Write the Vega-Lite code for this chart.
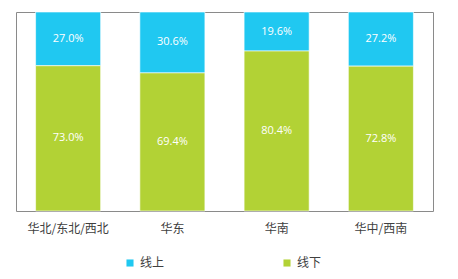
{
  "$schema": "https://vega.github.io/schema/vega-lite/v6.json",
  "autosize": {"type": "none"},
  "width": 417,
  "height": 199,
  "padding": {"left": 16, "top": 12, "right": 25, "bottom": 68},
  "background": "white",
  "config": {
    "view": {"stroke": "#8a8a8a", "strokeWidth": 1},
    "font": "Noto Sans CJK SC"
  },
  "data": {
    "values": [
      {"region": "华北/东北/西北", "series": "线上", "share": 0.270},
      {"region": "华北/东北/西北", "series": "线下", "share": 0.730},
      {"region": "华东", "series": "线上", "share": 0.306},
      {"region": "华东", "series": "线下", "share": 0.694},
      {"region": "华南", "series": "线上", "share": 0.196},
      {"region": "华南", "series": "线下", "share": 0.804},
      {"region": "华中/西南", "series": "线上", "share": 0.272},
      {"region": "华中/西南", "series": "线下", "share": 0.728}
    ]
  },
  "encoding": {
    "x": {
      "field": "region", "type": "nominal", "sort": null,
      "scale": {"paddingInner": 0.376, "paddingOuter": 0.188},
      "axis": {"title": null, "labelAngle": 0, "ticks": false, "domain": false, "labelPadding": 12, "labelFontSize": 12, "labelColor": "#404040", "labelFont": "Noto Sans CJK SC"}
    },
    "y": {
      "field": "share", "type": "quantitative", "stack": "zero",
      "scale": {"domain": [0, 1], "nice": false},
      "axis": null
    },
    "order": {"field": "series", "sort": "descending"}
  },
  "layer": [
    {
      "mark": {"type": "bar", "stroke": "white", "strokeWidth": 1, "strokeOpacity": 0.6},
      "encoding": {
        "color": {
          "field": "series", "type": "nominal",
          "scale": {"domain": ["线上", "线下"], "range": ["#20c8f1", "#b2d235"]},
          "legend": {
            "title": null, "orient": "none", "direction": "horizontal",
            "legendX": 108, "legendY": 245, "padding": 0,
            "symbolType": "square", "symbolSize": 50, "symbolStrokeWidth": 0,
            "labelFontSize": 12, "labelColor": "#404040", "labelOffset": 4,
            "columnPadding": 116
          }
        }
      }
    },
    {
      "mark": {"type": "text", "color": "white", "fontSize": 11, "font": "Open Sans"},
      "encoding": {
        "y": {"field": "share", "type": "quantitative", "stack": "zero", "bandPosition": 0.5},
        "text": {"field": "share", "type": "quantitative", "format": ".1%"}
      }
    }
  ]
}
